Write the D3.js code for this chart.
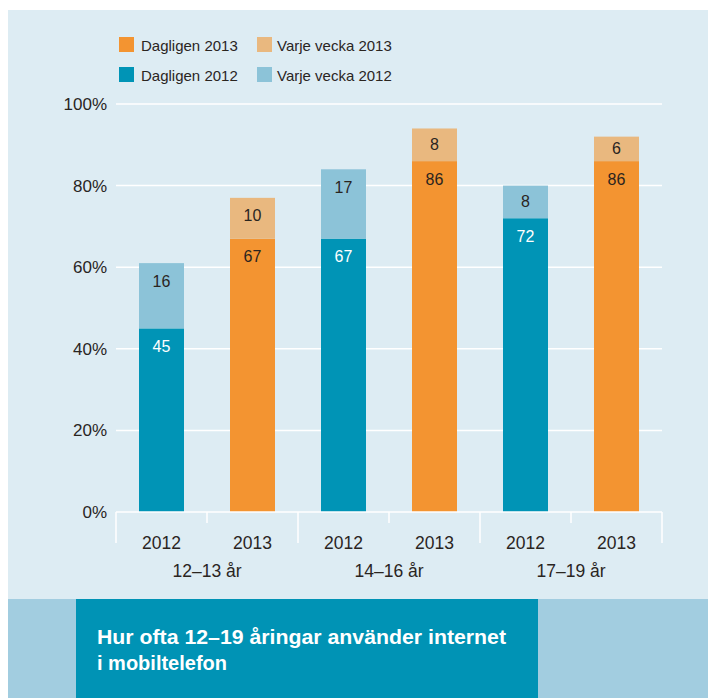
<!DOCTYPE html>
<html>
<head>
<meta charset="utf-8">
<script src="https://cdn.jsdelivr.net/npm/d3@7"></script>
<style>
  html, body { margin: 0; padding: 0; background: #fff; }
  svg { display: block; }
  text { font-family: "Liberation Sans", Arial, Helvetica, sans-serif; }
</style>
</head>
<body>
<svg id="chart" width="708" height="698"></svg>
<script>
// ---- data ----
const groups = ["12–13 år", "14–16 år", "17–19 år"];
const years = ["2012", "2013"];
const daily = [45, 67, 67, 86, 72, 86];     // Dagligen
const weekly = [16, 10, 17, 8, 8, 6];       // Varje vecka
const yTicks = [0, 20, 40, 60, 80, 100];
const legendItems = ["Dagligen 2013", "Varje vecka 2013", "Dagligen 2012", "Varje vecka 2012"];
const titleLines = ["Hur ofta 12–19 åringar använder internet", "i mobiltelefon"];

// ---- styles ----
const C = {
  bg: "#ddecf3", band: "#a2cde0", box: "#0093b5",
  d2012: "#0094b6", w2012: "#8cc3d8", d2013: "#f39431", w2013: "#e9b87f",
  text: "#2a251f", grid: "#ffffff"
};
const legendColors = [C.d2013, C.w2013, C.d2012, C.w2012];

const svg = d3.select("#chart");

// backgrounds
svg.append("rect").attr("x", 8).attr("y", 10).attr("width", 700).attr("height", 589).attr("fill", C.bg);
svg.append("rect").attr("x", 8).attr("y", 599).attr("width", 700).attr("height", 99).attr("fill", C.band);
svg.append("rect").attr("x", 76).attr("y", 599).attr("width", 462).attr("height", 99).attr("fill", C.box);

// scales
const bars = [];
groups.forEach((g, gi) => years.forEach((yr, yi) => {
  const i = gi * years.length + yi;
  bars.push({ key: g + "|" + yr, group: g, year: yr, daily: daily[i], weekly: weekly[i] });
}));

const x = d3.scaleBand().domain(bars.map(d => d.key)).range([116, 662])
  .paddingInner(46 / 91).paddingOuter(23 / 91);
const y = d3.scaleLinear().domain([0, 100]).range([512, 104]);

// gridlines
svg.append("g").selectAll("line").data(yTicks.filter(t => t > 0)).join("line")
  .attr("x1", 116).attr("x2", 662)
  .attr("y1", d => y(d)).attr("y2", d => y(d))
  .attr("stroke", C.grid).attr("stroke-width", 1.5);

// y labels
svg.append("g").selectAll("text").data(yTicks).join("text")
  .attr("x", 107).attr("y", d => y(d) + 6)
  .attr("text-anchor", "end").attr("font-size", 17).attr("fill", C.text)
  .text(d => d + "%");

// bars
const bg = svg.append("g");
bars.forEach(d => {
  const is13 = d.year === "2013";
  const cd = is13 ? C.d2013 : C.d2012;
  const cw = is13 ? C.w2013 : C.w2012;
  const x0 = x(d.key), w = x.bandwidth();
  bg.append("rect").attr("x", x0).attr("y", y(d.daily)).attr("width", w)
    .attr("height", y(0) - y(d.daily)).attr("fill", cd);
  bg.append("rect").attr("x", x0).attr("y", y(d.daily + d.weekly)).attr("width", w)
    .attr("height", y(d.daily) - y(d.daily + d.weekly)).attr("fill", cw);
  // labels
  const segs = [
    { v: d.weekly, top: y(d.daily + d.weekly), bot: y(d.daily), fill: C.text },
    { v: d.daily, top: y(d.daily), bot: y(0), fill: is13 ? C.text : "#ffffff" }
  ];
  segs.forEach(s => {
    const h = s.bot - s.top;
    const cy = s.top + Math.min(h / 2, 18);
    bg.append("text").attr("x", x0 + w / 2).attr("y", cy + 5.5)
      .attr("text-anchor", "middle").attr("font-size", 16).attr("fill", s.fill)
      .text(s.v);
  });
});

// x axis
const ax = svg.append("g").attr("stroke", C.grid).attr("stroke-width", 1.5);
ax.append("line").attr("x1", 116).attr("x2", 662).attr("y1", y(0)).attr("y2", y(0));
const edges = bars.map(d => x(d.key) - (x.step() - x.bandwidth()) / 2);
edges.push(662);
edges.forEach((e, i) => {
  const long = i % years.length === 0;
  ax.append("line").attr("x1", e).attr("x2", e)
    .attr("y1", y(0)).attr("y2", long ? 543 : 523);
});

svg.append("g").selectAll("text").data(bars).join("text")
  .attr("x", d => x(d.key) + x.bandwidth() / 2).attr("y", 549)
  .attr("text-anchor", "middle").attr("font-size", 17.5).attr("fill", C.text)
  .text(d => d.year);

svg.append("g").selectAll("text").data(groups).join("text")
  .attr("x", (g, gi) => (edges[gi * 2] + edges[gi * 2 + 2]) / 2).attr("y", 577)
  .attr("text-anchor", "middle").attr("font-size", 17.5).attr("fill", C.text)
  .text(d => d);

// legend
const lg = svg.append("g");
legendItems.forEach((t, i) => {
  const col = i % 2, row = Math.floor(i / 2);
  const lx = 119 + col * 138, ly = 37 + row * 30;
  lg.append("rect").attr("x", lx).attr("y", ly).attr("width", 15).attr("height", 15).attr("fill", legendColors[i]);
  lg.append("text").attr("x", lx + (col ? 20 : 22)).attr("y", ly + 14).attr("font-size", 15).attr("fill", C.text).text(t);
});

// title
svg.append("g").selectAll("text").data(titleLines).join("text")
  .attr("x", 97).attr("y", (d, i) => 644 + i * 26)
  .attr("font-size", 20).attr("font-weight", "bold").attr("fill", "#ffffff")
  .attr("textLength", (d, i) => i === 0 ? 409 : null)
  .attr("lengthAdjust", "spacingAndGlyphs")
  .text(d => d);
</script>
</body>
</html>
